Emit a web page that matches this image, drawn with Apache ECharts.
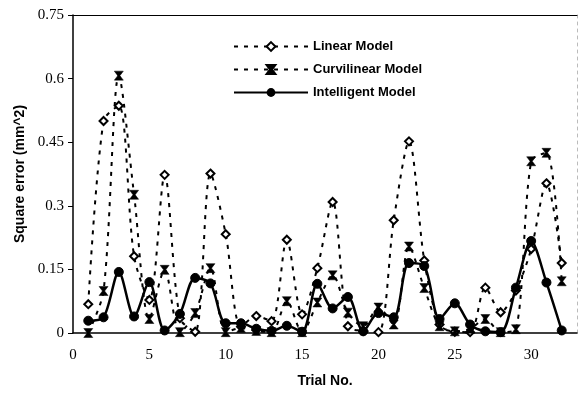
<!DOCTYPE html>
<html>
<head>
<meta charset="utf-8">
<script src="https://cdn.jsdelivr.net/npm/echarts@6/dist/echarts.min.js"></script>
<style>
html,body{margin:0;padding:0;background:#fff;}
#chart{width:579px;height:393px;}
</style>
</head>
<body>
<div id="chart"></div>
<script>
const trials = [1,2,3,4,5,6,7,8,9,10,11,12,13,14,15,16,17,18,19,20,21,22,23,24,25,26,27,28,29,30,31,32];
const linearModel = [0.068,0.500,0.536,0.181,0.078,0.373,0.035,0.003,0.376,0.233,0.015,0.040,0.028,0.220,0.044,0.153,0.309,0.016,0.005,0.002,0.266,0.452,0.171,0.020,0.003,0.002,0.107,0.049,0.100,0.198,0.353,0.165];
const curvilinearModel = [0.000,0.099,0.607,0.326,0.033,0.149,0.002,0.047,0.153,0.002,0.012,0.005,0.002,0.075,0.002,0.072,0.136,0.048,0.016,0.060,0.020,0.204,0.106,0.016,0.004,0.010,0.033,0.002,0.009,0.405,0.425,0.122];
const intelligentModel = [0.029,0.037,0.144,0.039,0.120,0.006,0.045,0.130,0.117,0.023,0.023,0.010,0.005,0.017,0.003,0.116,0.058,0.085,0.004,0.047,0.037,0.165,0.158,0.033,0.070,0.020,0.004,0.002,0.107,0.217,0.119,0.006];
const seriesNames = ['Linear Model','Curvilinear Model','Intelligent Model'];
const yTicks = [0,0.15,0.3,0.45,0.6,0.75];
const xTicks = [0,5,10,15,20,25,30];

const pairs = arr => trials.map((t,i)=>[t,arr[i]]);
const chart = echarts.init(document.getElementById('chart'), null, {renderer:'canvas'});
const tickFont = {fontFamily:'Liberation Serif', fontSize:15, color:'#000'};
const nameFont = {fontFamily:'Liberation Sans', fontSize:14, fontWeight:'bold', color:'#000'};
chart.setOption({
  animation:false,
  backgroundColor:'#fff',
  grid:{left:73, top:15, right:2, bottom:56, containLabel:false},
  legend:{
    orient:'vertical', left:233, top:40, padding:0, itemWidth:74, itemHeight:11, itemGap:10,
    textStyle:{fontFamily:'Liberation Sans', fontSize:13, fontWeight:'bold', color:'#000'},
    data:seriesNames
  },
  xAxis:[{
    type:'value', min:0, max:33, interval:5,
    name:'Trial No.', nameLocation:'middle', nameGap:41, nameTextStyle:nameFont,
    axisLine:{show:true, onZero:false, lineStyle:{color:'#000', width:1.5}},
    axisTick:{show:false},
    axisLabel:Object.assign({margin:15, showMaxLabel:false, formatter:v=> xTicks.includes(v)? String(v):''}, tickFont),
    splitLine:{show:false}
  },{
    type:'value', position:'top', min:0, max:33,
    axisLine:{show:true, onZero:false, lineStyle:{color:'#000', width:1}},
    axisTick:{show:false}, axisLabel:{show:false}, splitLine:{show:false}
  }],
  yAxis:[{
    type:'value', min:0, max:0.75, interval:0.15,
    name:'Square error (mm^2)', nameLocation:'middle', nameGap:43, nameRotate:90, nameTextStyle:nameFont,
    axisLine:{show:true, onZero:false, lineStyle:{color:'#000', width:1.5}},
    axisTick:{show:true, length:5, lineStyle:{color:'#000', width:1}},
    axisLabel:Object.assign({margin:9, formatter:v=>{const t=yTicks.find(y=>Math.abs(y-v)<1e-9);return t===undefined?'':String(t);}}, tickFont),
    splitLine:{show:false}
  },{
    type:'value', position:'right', min:0, max:0.75,
    axisLine:{show:true, onZero:false, lineStyle:{color:'#bbb', width:1, type:[3,4]}},
    axisTick:{show:false}, axisLabel:{show:false}, splitLine:{show:false}
  }],
  series:[{
    name:seriesNames[0], type:'line', data:pairs(linearModel), smooth:0.3,
    symbol:'diamond', symbolSize:8,
    lineStyle:{color:'#000', width:2, type:[4,6]},
    itemStyle:{color:'#fff', borderColor:'#000', borderWidth:2},
    z:2
  },{
    name:seriesNames[1], type:'line', data:pairs(curvilinearModel), smooth:0.3,
    symbol:'path://M0,0L10,0L6.2,5L10,10L0,10L3.8,5Z', symbolSize:[9,9],
    lineStyle:{color:'#000', width:2, type:[4,6]},
    itemStyle:{color:'#000', borderColor:'#000', borderWidth:0.5},
    z:3
  },{
    name:seriesNames[2], type:'line', data:pairs(intelligentModel), smooth:0.3,
    symbol:'circle', symbolSize:9,
    lineStyle:{color:'#000', width:2.5, type:'solid'},
    itemStyle:{color:'#000', borderColor:'#000'},
    z:4
  }]
});
</script>
</body>
</html>
